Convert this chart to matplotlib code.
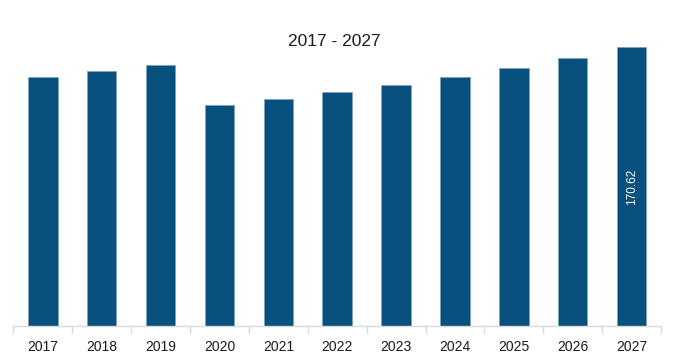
import matplotlib.pyplot as plt

years = ['2017', '2018', '2019', '2020', '2021', '2022', '2023', '2024', '2025', '2026', '2027']
values = [152.2, 155.7, 159.4, 134.9, 138.8, 142.9, 147.3, 152.2, 157.7, 163.9, 170.62]
title = "2017 - 2027"

plt.rcParams['font.family'] = ['Liberation Sans', 'DejaVu Sans']

fig = plt.figure(figsize=(6.73, 3.64), dpi=100)
fig.patch.set_facecolor('white')

# axes: baseline at y=326 px, tallest bar top at y=47 px
ax = fig.add_axes([13.4 / 673, 38 / 364, 647.6 / 673, 279 / 364])
x = list(range(len(years)))
ax.bar(x, values, width=0.5, color='#08517f', edgecolor='#7fa3c0', linewidth=0.6, zorder=2)

ax.set_xlim(-0.5, len(years) - 0.5)
ax.set_ylim(0, max(values))

# label only the last bar
ax.text(x[-1], values[-1] / 2, f"{values[-1]:.2f}", rotation=90, ha='center', va='center',
        color='white', fontsize=8.5)

ax.set_xticks(x)
ax.set_xticklabels(years, fontsize=10, color='#1a1a1a')
ax.set_xticks([i - 0.5 for i in range(len(years) + 1)], minor=True)
ax.tick_params(axis='x', which='major', length=0, pad=10)
ax.tick_params(axis='x', which='minor', length=5, color='#d9d9d9', width=1)
ax.set_yticks([])

for side in ['top', 'right', 'left']:
    ax.spines[side].set_visible(False)
ax.spines['bottom'].set_color('#d9d9d9')
ax.spines['bottom'].set_linewidth(1)
ax.patch.set_alpha(0)

fig.text(334 / 673, 1 - 41 / 364, title, ha='center', va='center', fontsize=12.5, color='#1a1a1a')

fig.savefig('out.png', dpi=100, facecolor='white')
